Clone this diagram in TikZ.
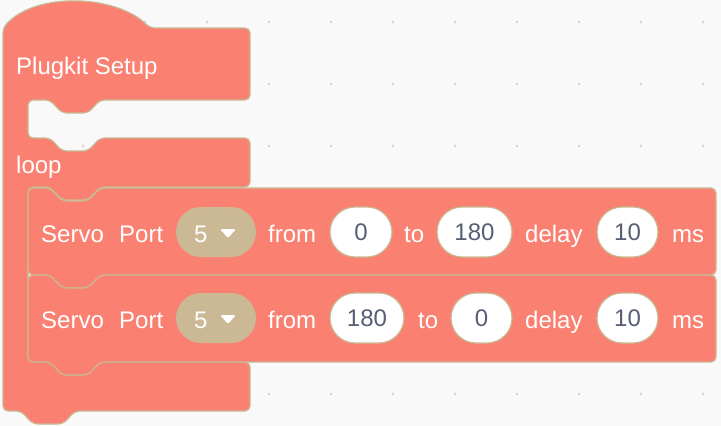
\documentclass[tikz,border=0pt]{standalone}
\usepackage{fontspec}
\setmainfont{Liberation Sans}
\usetikzlibrary{positioning}
\definecolor{blocksalmon}{RGB}{250,128,114}
\definecolor{blockedge}{RGB}{201,185,146}
\definecolor{dropfill}{RGB}{203,185,149}
\definecolor{numtext}{RGB}{87,94,117}
\definecolor{canvas}{RGB}{249,249,249}
\definecolor{griddot}{RGB}{208,208,208}
\tikzset{
	blockpath/.style={fill=blocksalmon,draw=blockedge,line width=1.2pt,rounded corners=5pt},
	blocktext/.style={text=white,font=\fontsize{24}{28}\selectfont,anchor=base west,inner sep=0pt},
	numfield/.style={draw=blockedge,line width=1.2pt,fill=white,rounded corners=25pt,minimum height=50pt,inner sep=0pt,text=numtext,font=\fontsize{24}{28}\selectfont},
	dropfield/.style={fill=dropfill,rounded corners=25pt,minimum width=80pt,minimum height=50pt,inner sep=0pt},
}

\begin{document}
\begin{tikzpicture}[x=1pt,y=-1pt]
	\fill[canvas] (0,0) rectangle (721,426);
	\useasboundingbox (0,0) rectangle (721,426);
	\foreach \i in {0,...,11}
		\foreach \j in {0,...,6}
			\fill[griddot] (21+62*\i,22+62*\j) circle (1.3);
	\draw[blockpath] (3,28) .. controls (35,-8) and (115,-6) .. (150,28)
		-- (250,28) -- (250,100)
		-- (100,100) -- (88,113) -- (62,113) -- (50,100)
		-- (28,100) -- (28,138)
		-- (50,138) -- (62,151) -- (88,151) -- (100,138)
		-- (250,138) -- (250,187)
		-- (100,187) -- (88,200) -- (62,200) -- (50,187)
		-- (28,187) -- (28,362)
		-- (50,362) -- (62,375) -- (88,375) -- (100,362)
		-- (250,362) -- (250,411)
		-- (75,411) -- (63,424) -- (33,424) -- (21,411)
		-- (3,411) -- cycle;
	\node[blocktext] (setup) at (16,74) {Plugkit Setup};
	\node[blocktext] (loop) at (16,173) {loop};
	\foreach \t/\b/\base/\from/\to/\row in {188/275/242/0/180/1, 275/362/328/180/0/2} {
		\draw[blockpath] (28,\t) -- (50,\t) -- (62,\t+13) -- (88,\t+13) -- (100,\t)
			-- (716,\t) -- (716,\b)
			-- (100,\b) -- (88,\b+13) -- (62,\b+13) -- (50,\b) -- (28,\b) -- cycle;
		\node[blocktext] (servo\row) at (41,\base) {Servo};
		\node[blocktext] (port\row) at (119,\base) {Port};
		\node[dropfield] (drop\row) at (216,\base-10) {};
		\node[blocktext] (portnum\row) at (194,\base) {5};
		\fill[white,rounded corners=1.5pt] (220,\base-13) -- (236,\base-13) -- (228,\base-4) -- cycle;
		\node[blocktext] (fromlbl\row) at (268,\base) {from};
	}
	\node[numfield,minimum width=62pt] (fromA) at (361,232) {0};
	\node[blocktext] (tolbl1) at (404,242) {to};
	\node[numfield,minimum width=75pt] (toA) at (474.5,232) {180};
	\node[numfield,minimum width=74pt] (fromB) at (367,318) {180};
	\node[blocktext] (tolbl2) at (418,328) {to};
	\node[numfield,minimum width=61pt] (toB) at (481.5,318) {0};
	\foreach \base/\row in {242/1, 328/2} {
		\node[blocktext] (delaylbl\row) at (525,\base) {delay};
		\node[numfield,minimum width=61pt] (delay\row) at (627.5,\base-10) {10};
		\node[blocktext] (mslbl\row) at (672,\base) {ms};
	}
\end{tikzpicture}
\end{document}
